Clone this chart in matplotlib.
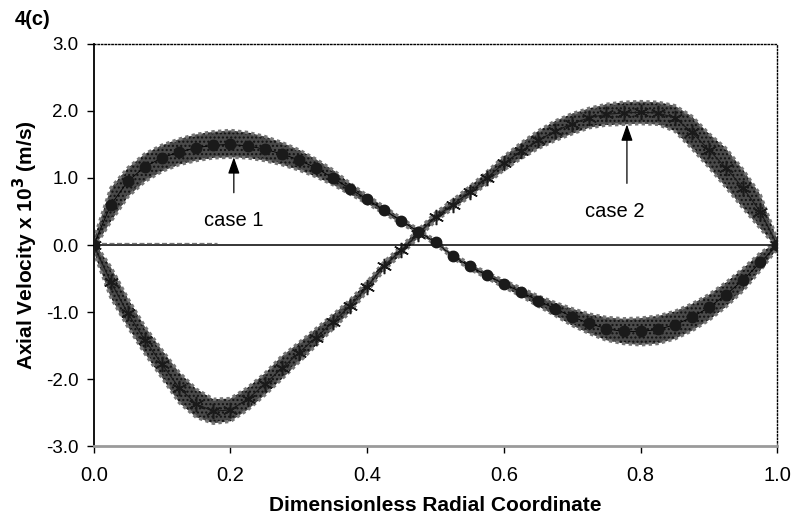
import matplotlib
matplotlib.use("Agg")
import matplotlib.pyplot as plt
import numpy as np

plt.rcParams['font.family'] = ['Liberation Sans', 'DejaVu Sans']

# Dimensionless radial coordinate
x = [0.000, 0.025, 0.050, 0.075, 0.100, 0.125, 0.150, 0.175, 0.200, 0.225,
     0.250, 0.275, 0.300, 0.325, 0.350, 0.375, 0.400, 0.425, 0.450, 0.475,
     0.500, 0.525, 0.550, 0.575, 0.600, 0.625, 0.650, 0.675, 0.700, 0.725,
     0.750, 0.775, 0.800, 0.825, 0.850, 0.875, 0.900, 0.925, 0.950, 0.975,
     1.000]

# Case 1: axial velocity (x 10^3 m/s) - lower edge, centre, upper edge of data band
case1_lo = [-0.05, 0.35, 0.72, 0.95, 1.10, 1.20, 1.26, 1.30, 1.31, 1.30,
            1.26, 1.20, 1.12, 1.02, 0.90, 0.76, 0.62, 0.47, 0.32, 0.17,
            0.01, -0.19, -0.36, -0.49, -0.63, -0.76, -0.91, -1.05, -1.20, -1.32,
            -1.42, -1.47, -1.49, -1.47, -1.40, -1.28, -1.12, -0.92, -0.68, -0.38,
            -0.05]
case1_mid = [0.00, 0.60, 0.95, 1.17, 1.30, 1.39, 1.45, 1.49, 1.50, 1.48,
             1.43, 1.36, 1.27, 1.15, 1.00, 0.84, 0.68, 0.52, 0.36, 0.20,
             0.04, -0.16, -0.32, -0.45, -0.58, -0.70, -0.83, -0.95, -1.07, -1.17,
             -1.25, -1.29, -1.29, -1.26, -1.19, -1.08, -0.93, -0.74, -0.52, -0.26,
             0.00]
case1_hi = [0.08, 0.85, 1.15, 1.36, 1.49, 1.58, 1.65, 1.69, 1.71, 1.68,
            1.62, 1.53, 1.42, 1.28, 1.12, 0.92, 0.74, 0.57, 0.40, 0.23,
            0.07, -0.13, -0.28, -0.41, -0.53, -0.64, -0.76, -0.86, -0.95, -1.03,
            -1.08, -1.10, -1.09, -1.06, -0.99, -0.88, -0.74, -0.56, -0.35, -0.12,
            0.05]

# Case 2
case2_lo = [-0.10, -0.78, -1.22, -1.62, -1.98, -2.35, -2.57, -2.66, -2.63, -2.46,
            -2.24, -2.00, -1.75, -1.50, -1.25, -1.00, -0.69, -0.37, -0.14, 0.11,
            0.36, 0.54, 0.72, 0.91, 1.12, 1.29, 1.44, 1.56, 1.66, 1.75,
            1.79, 1.80, 1.81, 1.80, 1.70, 1.44, 1.16, 0.86, 0.55, 0.25,
            -0.05]
case2_mid = [0.00, -0.55, -1.02, -1.42, -1.78, -2.13, -2.37, -2.48, -2.46, -2.30,
             -2.08, -1.84, -1.61, -1.38, -1.15, -0.91, -0.62, -0.31, -0.08, 0.17,
             0.42, 0.60, 0.79, 1.00, 1.22, 1.40, 1.56, 1.70, 1.81, 1.90,
             1.95, 1.97, 1.98, 1.97, 1.90, 1.68, 1.42, 1.15, 0.85, 0.50,
             0.00]
case2_hi = [0.05, -0.33, -0.80, -1.22, -1.57, -1.90, -2.15, -2.30, -2.29, -2.13,
            -1.92, -1.66, -1.46, -1.25, -1.04, -0.82, -0.55, -0.25, -0.02, 0.23,
            0.48, 0.67, 0.87, 1.09, 1.32, 1.52, 1.70, 1.85, 1.96, 2.04,
            2.10, 2.13, 2.14, 2.13, 2.08, 1.92, 1.66, 1.44, 1.12, 0.75,
            0.08]

x_ticks = [0.0, 0.2, 0.4, 0.6, 0.8, 1.0]
y_ticks = [-3.0, -2.0, -1.0, 0.0, 1.0, 2.0, 3.0]

fig = plt.figure(figsize=(7.94, 5.23), dpi=100)
ax = fig.add_axes([0.118, 0.147, 0.861, 0.769])

xa = np.array(x)
for lo, hi in [(case1_lo, case1_hi), (case2_lo, case2_hi)]:
    ax.fill_between(xa, lo, hi, facecolor='#4a4a4a', edgecolor='#111111',
                    hatch='....', linewidth=0, zorder=2)
    ax.plot(xa, lo, color='#777777', lw=2.4, ls=(0, (1, 1)), zorder=2)
    ax.plot(xa, hi, color='#777777', lw=2.4, ls=(0, (1, 1)), zorder=2)

# zero line
ax.plot([0, 1], [0, 0], color='black', lw=1.1, zorder=3)
ax.plot([0.0, 0.18], [0.03, 0.03], color='#777777', lw=0.9, ls=(0, (4, 2)), zorder=3)

# series markers
ax.plot(xa, case1_mid, color='black', lw=0.6, marker='o', ms=7.5,
        mfc='#1a1a1a', mec='#1a1a1a', zorder=4)
ax.plot(xa, case2_mid, color='#1a1a1a', lw=0.8, marker=(6, 2, 0), ms=11,
        mec='#1a1a1a', mew=1.1, zorder=4)

# arrows and labels
ax.annotate('', xy=(0.205, 1.31), xytext=(0.205, 0.78),
            arrowprops=dict(arrowstyle='-|>,head_length=1.0,head_width=0.35',
                            color='black', lw=0.9, shrinkA=0, shrinkB=0), zorder=5)
ax.annotate('', xy=(0.780, 1.80), xytext=(0.780, 0.92),
            arrowprops=dict(arrowstyle='-|>,head_length=1.0,head_width=0.35',
                            color='black', lw=0.9, shrinkA=0, shrinkB=0), zorder=5)
ax.text(0.205, 0.36, 'case 1', ha='center', va='center', fontsize=14.5)
ax.text(0.762, 0.50, 'case 2', ha='center', va='center', fontsize=14.5)

ax.set_xlim(0, 1)
ax.set_ylim(-3, 3)
ax.set_xticks(x_ticks)
ax.set_xticklabels([f'{v:.1f}' for v in x_ticks], fontsize=14.5)
ax.set_yticks(y_ticks)
ax.set_yticklabels([f'{v:.1f}' for v in y_ticks], fontsize=13.5)
ax.tick_params(axis='both', direction='out', length=5, width=1, color='black')
ax.tick_params(axis='x', pad=9)
ax.tick_params(axis='y', pad=6)

for side in ['top', 'right']:
    ax.spines[side].set_linestyle((0, (1, 1.5)))
    ax.spines[side].set_linewidth(1.0)
    ax.spines[side].set_color('black')
ax.spines['left'].set_linewidth(1.3)
ax.spines['bottom'].set_linewidth(2.0)
ax.spines['bottom'].set_color('#9a9a9a')

ax.set_xlabel('Dimensionless Radial Coordinate', fontsize=15, fontweight='bold', labelpad=8)
ax.set_ylabel(r'Axial Velocity x 10$^\mathbf{3}$ (m/s)', fontsize=15, fontweight='bold', labelpad=4)
fig.text(0.018, 0.952, '4(c)', fontsize=14.5, fontweight='bold')

fig.savefig('out.png', dpi=100)
